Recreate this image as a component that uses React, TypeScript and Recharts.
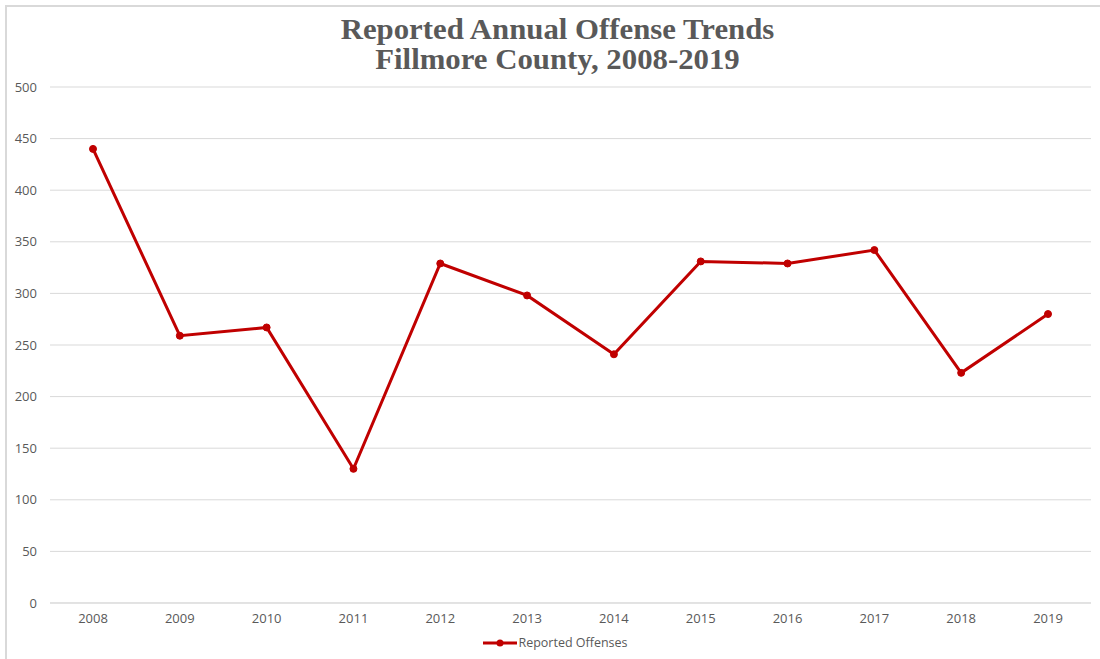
import React from 'react';
import { LineChart, Line, XAxis, YAxis, CartesianGrid, Legend } from 'recharts';

const years = ['2008', '2009', '2010', '2011', '2012', '2013', '2014', '2015', '2016', '2017', '2018', '2019'];
const offenses = [440, 259, 267, 130, 329, 298, 241, 331, 329, 342, 223, 280];
const yTicks = [0, 50, 100, 150, 200, 250, 300, 350, 400, 450, 500];

const data = years.map((year, i) => ({ year, offenses: offenses[i] }));

const RED = '#C00000';
const TEXT = '#595959';
const GRID = '#D9D9D9';

function LegendContent() {
  return (
    <div style={{ display: 'flex', justifyContent: 'center', alignItems: 'center', fontFamily: 'Open Sans', fontSize: 12.5, color: TEXT, paddingLeft: 20 }}>
      <svg width={34} height={10} style={{ marginRight: 1 }}>
        <line x1={0} y1={5} x2={34} y2={5} stroke={RED} strokeWidth={3} />
        <circle cx={17} cy={5} r={3.5} fill={RED} />
      </svg>
      <span>Reported Offenses</span>
    </div>
  );
}

export default function App() {
  return (
    <div style={{ position: 'fixed', left: 0, top: 0, width: 1100, height: 659, background: '#fff', overflow: 'hidden' }}>
      <div style={{ position: 'absolute', left: 5, top: 5, width: 1200, height: 800, borderLeft: '2px solid #D9D9D9', borderTop: '2px solid #D9D9D9' }} />
      <div style={{
        position: 'absolute', left: 0, top: 15, width: 1115, textAlign: 'center',
        fontFamily: '"Liberation Serif", "Times New Roman", serif', fontWeight: 'bold',
        fontSize: 28.5, lineHeight: '30px', color: TEXT,
        transform: 'scaleX(1.08)', transformOrigin: '557.5px 0',
      }}>
        <div>Reported Annual Offense Trends</div>
        <div>Fillmore County, 2008-2019</div>
      </div>
      <LineChart
        width={1100}
        height={659}
        data={data}
        margin={{ top: 87, right: 9, bottom: 9, left: 0 }}
        style={{ position: 'absolute', left: 0, top: 0 }}
      >
        <CartesianGrid vertical={false} stroke={GRID} strokeWidth={1} />
        <XAxis
          dataKey="year"
          axisLine={{ stroke: GRID }}
          tickLine={false}
          height={30}
          padding={{ left: 43, right: 43 }}
          tick={{ fill: TEXT, fontSize: 13, fontFamily: 'Open Sans' }}
          tickMargin={5}
        />
        <YAxis
          domain={[0, 500]}
          ticks={yTicks}
          width={50}
          axisLine={false}
          tickLine={false}
          tickSize={0}
          tickMargin={13}
          tick={{ fill: TEXT, fontSize: 13, fontFamily: 'Open Sans' }}
        />
        <Legend verticalAlign="bottom" content={<LegendContent />} wrapperStyle={{ bottom: 8 }} />
        <Line
          type="linear"
          dataKey="offenses"
          name="Reported Offenses"
          stroke={RED}
          strokeWidth={3}
          dot={{ r: 3.5, fill: RED, stroke: RED, strokeWidth: 1 }}
          isAnimationActive={false}
        />
      </LineChart>
    </div>
  );
}
